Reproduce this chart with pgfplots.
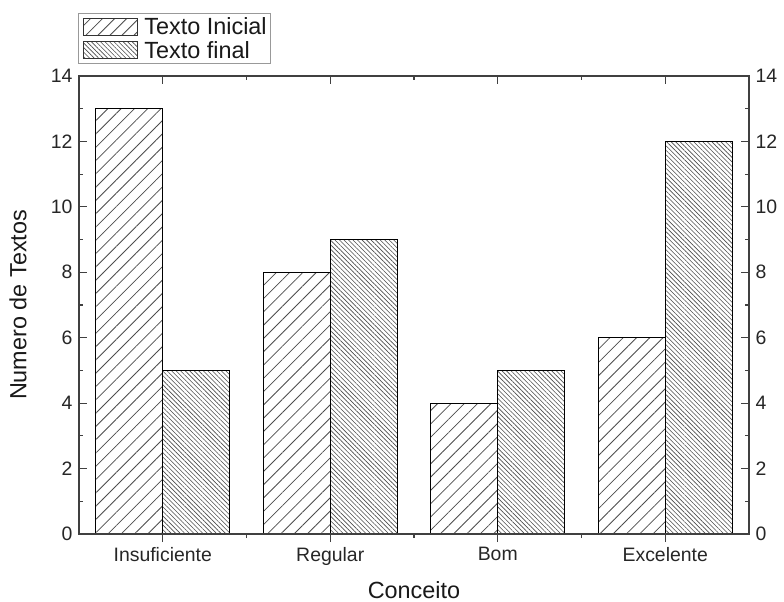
\documentclass[border=0pt]{standalone}
\usepackage{fontspec}
\setmainfont{Liberation Sans}
\usepackage{pgfplots}
\pgfplotsset{compat=1.18}
\usetikzlibrary{patterns.meta}

\pgfplotsset{
  common/.style={
    scale only axis, width=670bp, height=458bp,
    at={(0,0)}, anchor=south west,
    xmin=-0.5, xmax=3.5, ymin=0, ymax=14,
    xtick={0,1,2,3}, minor x tick num=1,
    ytick={0,2,...,14}, minor y tick num=1,
    major tick length=8bp, minor tick length=4bp,
    axis line style={line width=1.3bp, color=black!75},
    every tick/.style={line width=1.1bp, color=black!75},
    every minor tick/.style={line width=1.1bp, color=black!75},
    tick label style={font=\fontsize{19.5}{20}\selectfont, text=black!85},
    /pgf/number format/assume math mode=true,
  }
}
\newcommand\legspace{\pgfpathmoveto{\pgfqpoint{0bp}{0bp}}\pgfpathlineto{\pgfqpoint{62bp}{0bp}}\pgfusepath{}}

\begin{document}
\begin{tikzpicture}
\begin{axis}[common,
  xticklabels={Insuficiente,Regular,Bom,Excelente},
  xtick pos=bottom, xtick align=outside,
  ytick pos=left, ytick align=inside,
  yticklabel style={xshift=-3bp},
  xticklabel style={yshift=-2bp},
  xlabel={Conceito}, ylabel={Numero de Textos},
  label style={font=\fontsize{23.5}{24}\selectfont, text=black!90},
  xlabel style={at={(axis description cs:0.5,-0.1215)}, anchor=center},
  ylabel style={at={(axis description cs:-0.091,0.5)}, anchor=center},
  legend style={at={(axis description cs:0,1)}, anchor=south west,
    yshift=12bp, xshift=-1bp, draw=black!40, line width=0.8bp,
    font=\fontsize{23.5}{24}\selectfont, text=black!90,
    inner xsep=2bp, inner ysep=2bp, row sep=1bp},
  legend cell align=left,
]
\addplot[ybar, bar width=0.4, bar shift=-0.2, draw=black, line width=1bp,
  pattern={Lines[angle=45, distance=9.4bp, line width=0.8bp]}, pattern color=black!70,
  legend image code/.code={\legspace
    \draw[draw=black!80, line width=0.9bp,
    pattern={Lines[angle=45, distance=8.5bp, line width=0.8bp]}, pattern color=black!70]
    (3bp,-8.5bp) rectangle (57bp,8.5bp);}]
  coordinates {(0,13) (1,8) (2,4) (3,6)};
\addlegendentry{Texto Inicial}
\addplot[ybar, bar width=0.4, bar shift=0.2, draw=black, line width=1bp,
  pattern={Lines[angle=-45, distance=3.2bp, line width=0.6bp]}, pattern color=black!70,
  legend image code/.code={\legspace
    \draw[draw=black!80, line width=0.9bp,
    pattern={Lines[angle=-45, distance=3.2bp, line width=0.6bp]}, pattern color=black!70]
    (3bp,-8.5bp) rectangle (57bp,8.5bp);}]
  coordinates {(0,5) (1,9) (2,5) (3,12)};
\addlegendentry{Texto final}
\end{axis}
\begin{axis}[common,
  xticklabels={,,,},
  xtick pos=top, xtick align=inside,
  ytick pos=right, yticklabel pos=right, ytick align=inside,
  yticklabel style={xshift=3bp},
]
\end{axis}
\pgfresetboundingbox
\path[use as bounding box] (-79bp,-68bp) rectangle (705bp,534bp);
\end{tikzpicture}
\end{document}
